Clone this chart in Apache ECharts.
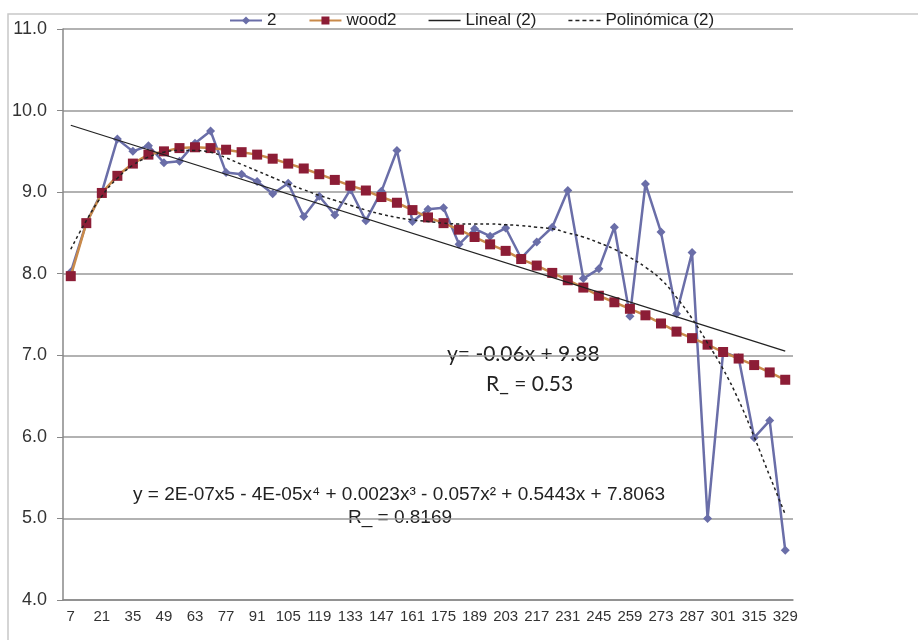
<!DOCTYPE html>
<html>
<head>
<meta charset="utf-8">
<script src="https://cdn.jsdelivr.net/npm/echarts@6/dist/echarts.min.js"></script>
<style>
  html, body { margin: 0; padding: 0; background: #fff; }
  #chart { width: 918px; height: 640px; }
</style>
</head>
<body>
<div id="chart"></div>
<script>
// dias: 7, 14, ... 329
const categories = ['7','14','21','28','35','42','49','56','63','70','77','84','91','98','105','112','119','126','133','140','147','154','161','168','175','182','189','196','203','210','217','224','231','238','245','252','259','266','273','280','287','294','301','308','315','322','329'];

// serie "2" (datos observados)
const serie2 = [8.02, 8.62, 9.00, 9.65, 9.50, 9.57, 9.36, 9.38, 9.60, 9.75,
  9.24, 9.22, 9.13, 8.98, 9.11, 8.70, 8.95, 8.72, 9.03, 8.65,
  9.01, 9.51, 8.64, 8.79, 8.81, 8.36, 8.55, 8.46, 8.56, 8.19,
  8.39, 8.57, 9.02, 7.94, 8.06, 8.57, 7.48, 9.10, 8.51, 7.51,
  8.26, 5.00, 7.04, 6.97, 5.99, 6.20, 4.61];

// serie "wood2" (curva ajustada)
const wood2 = [7.97, 8.62, 8.99, 9.20, 9.35, 9.46, 9.50, 9.54, 9.55, 9.54,
  9.52, 9.49, 9.46, 9.41, 9.35, 9.29, 9.22, 9.15, 9.08, 9.02,
  8.94, 8.87, 8.78, 8.69, 8.62, 8.54, 8.45, 8.36, 8.28, 8.18,
  8.10, 8.01, 7.92, 7.83, 7.73, 7.65, 7.57, 7.49, 7.39, 7.29,
  7.21, 7.13, 7.04, 6.96, 6.88, 6.79, 6.70];

// tendencia lineal: extremos
const linealX = ['7', '329'];
const linealY = [9.82, 7.05];

// tendencia polinómica
const polinomica = [8.30, 8.65, 8.95, 9.17, 9.33, 9.43, 9.49, 9.51, 9.51, 9.49,
  9.42, 9.34, 9.26, 9.18, 9.10, 9.03, 8.96, 8.90, 8.84, 8.78,
  8.73, 8.69, 8.66, 8.64, 8.62, 8.61, 8.61, 8.61, 8.60, 8.59,
  8.57, 8.55, 8.50, 8.45, 8.38, 8.30, 8.20, 8.08, 7.93, 7.71,
  7.45, 7.15, 6.83, 6.45, 6.00, 5.52, 5.05];

const yTicks = [4, 5, 6, 7, 8, 9, 10, 11];

const chart = echarts.init(document.getElementById('chart'));

chart.setOption({
  animation: false,
  textStyle: { fontFamily: 'Liberation Sans, Arial, sans-serif' },
  legend: {
    top: 7,
    left: 224,
    itemGap: 32,
    itemWidth: 32,
    itemHeight: 10,
    textStyle: { fontSize: 17, color: '#222' },
    data: [
      '2',
      'wood2',
      { name: 'Lineal (2)', icon: 'path://M0,0L30,0L30,1.4L0,1.4Z' },
      { name: 'Polinómica (2)', icon: 'path://M0,0L4,0L4,1.4L0,1.4ZM7,0L11,0L11,1.4L7,1.4ZM14,0L18,0L18,1.4L14,1.4ZM21,0L25,0L25,1.4L21,1.4ZM28,0L32,0L32,1.4L28,1.4Z' }
    ]
  },
  grid: { left: 63, right: 125, top: 29, bottom: 40 },
  xAxis: {
    type: 'category',
    data: categories,
    boundaryGap: true,
    axisLine: { lineStyle: { color: '#888', width: 1.5 } },
    axisTick: { interval: 0, length: 5, lineStyle: { color: '#888' } },
    axisLabel: { interval: 1, fontSize: 15, color: '#333', margin: 9 }
  },
  yAxis: {
    type: 'value',
    min: yTicks[0],
    max: yTicks[yTicks.length - 1],
    interval: 1,
    axisLine: { show: true, lineStyle: { color: '#888', width: 1.5 } },
    axisTick: { show: true, length: 6, lineStyle: { color: '#888' } },
    axisLabel: { fontSize: 18, color: '#333', margin: 16, formatter: v => v.toFixed(1) },
    splitLine: { lineStyle: { color: '#999', width: 1.5 } }
  },
  series: [
    {
      name: '2',
      type: 'line',
      data: serie2,
      symbol: 'diamond',
      symbolSize: 9,
      lineStyle: { color: '#6a6ea8', width: 2.5 },
      itemStyle: { color: '#6a6ea8' },
      z: 2
    },
    {
      name: 'wood2',
      type: 'line',
      data: wood2,
      symbol: 'rect',
      symbolSize: 10,
      lineStyle: { color: '#c98a4a', width: 2.5 },
      itemStyle: { color: '#8c1d36' },
      z: 3
    },
    {
      name: 'Lineal (2)',
      type: 'line',
      data: linealX.map((x, i) => [x, linealY[i]]),
      symbol: 'none',
      lineStyle: { color: '#222', width: 1.3 },
      itemStyle: { color: '#222' },
      z: 4
    },
    {
      name: 'Polinómica (2)',
      type: 'line',
      data: polinomica,
      symbol: 'none',
      smooth: true,
      lineStyle: { color: '#222', width: 1.5, type: [3, 3] },
      itemStyle: { color: '#222' },
      z: 5
    }
  ],
  graphic: [
    {
      type: 'rect',
      silent: true,
      shape: { x: 8, y: 14, width: 920, height: 640 },
      style: { fill: 'none', stroke: '#c8c8c8', lineWidth: 1.5 }
    },
    {
      type: 'text',
      left: 447, top: 344,
      style: { text: 'y= -0.06x + 9.88', font: '21px Lato, sans-serif', fill: '#222' }
    },
    {
      type: 'text',
      left: 486, top: 374,
      style: { text: 'R_ = 0.53', font: '21px Lato, sans-serif', fill: '#222' }
    },
    {
      type: 'text',
      left: 133, top: 485,
      style: { text: 'y = 2E-07x5 - 4E-05x⁴ + 0.0023x³ - 0.057x² + 0.5443x + 7.8063', font: '19px Liberation Sans, Arial, sans-serif', fill: '#222' }
    },
    {
      type: 'text',
      left: 348, top: 508,
      style: { text: 'R_ = 0.8169', font: '19px Liberation Sans, Arial, sans-serif', fill: '#222' }
    }
  ]
});
</script>
</body>
</html>
